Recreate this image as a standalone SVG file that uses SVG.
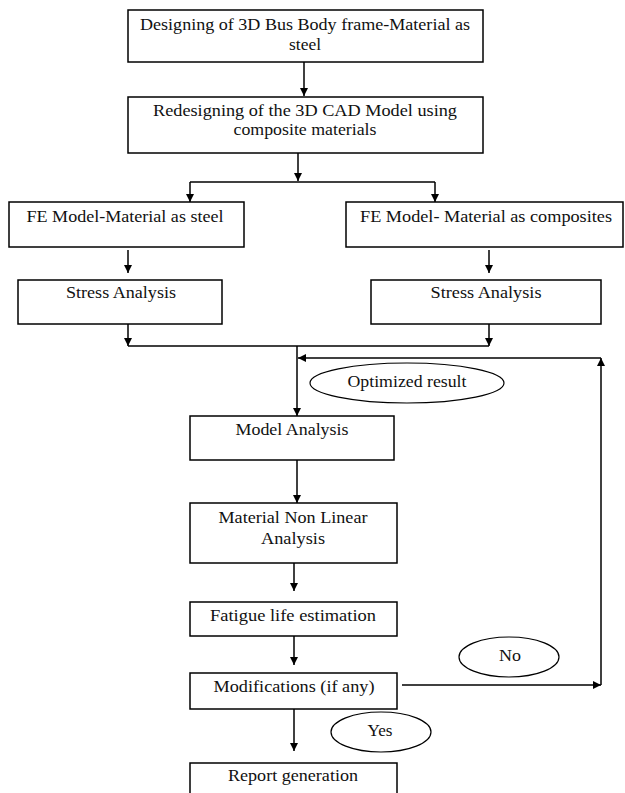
<svg xmlns="http://www.w3.org/2000/svg" width="625" height="793" viewBox="0 0 625 793">
<style>
.box{fill:#fff;stroke:#000;stroke-width:1.5}
.ell{fill:#fff;stroke:#000;stroke-width:1.2}
.t{font-family:"Liberation Serif","Times New Roman",serif;font-size:17px;fill:#111;text-anchor:middle}
.ln{fill:none;stroke:#000;stroke-width:1.5}
</style>
<defs>
<marker id="ah" viewBox="0 0 10 10" refX="10" refY="5" markerWidth="9" markerHeight="8" orient="auto" markerUnits="userSpaceOnUse">
<path d="M0,0 L10,5 L0,10 z" fill="#000"/>
</marker>
</defs>
<rect width="625" height="793" fill="#fff"/>
<g id="connectors">
<path class="ln" d="M304,62 V96" marker-end="url(#ah)"/>
<path class="ln" d="M298,153 V181" marker-end="url(#ah)"/>
<path class="ln" d="M190,182 H435"/>
<path class="ln" d="M190,182 V202" marker-end="url(#ah)"/>
<path class="ln" d="M435,182 V202" marker-end="url(#ah)"/>
<path class="ln" d="M128,250 V273" marker-end="url(#ah)"/>
<path class="ln" d="M489,250 V273" marker-end="url(#ah)"/>
<path class="ln" d="M128,324 V346" marker-end="url(#ah)"/>
<path class="ln" d="M489,324 V346" marker-end="url(#ah)"/>
<path class="ln" d="M128,346 H489"/>
<path class="ln" d="M297,346 V416" marker-end="url(#ah)"/>
<path class="ln" d="M601,358 H298" marker-end="url(#ah)"/>
<path class="ln" d="M297,460 V503" marker-end="url(#ah)"/>
<path class="ln" d="M294,563 V591" marker-end="url(#ah)"/>
<path class="ln" d="M294,636 V665" marker-end="url(#ah)"/>
<path class="ln" d="M402,685 H601" marker-end="url(#ah)"/>
<path class="ln" d="M601,685 V358" marker-end="url(#ah)"/>
<path class="ln" d="M294,709 V751" marker-end="url(#ah)"/>
</g>
<g id="n1"><rect class="box" x="128" y="10" width="355" height="52"/>
<text class="t" x="305" y="30" textLength="330" lengthAdjust="spacingAndGlyphs">Designing of 3D Bus Body frame-Material as</text>
<text class="t" x="305" y="50" textLength="32" lengthAdjust="spacingAndGlyphs">steel</text></g>
<g id="n2"><rect class="box" x="128" y="97" width="355" height="56"/>
<text class="t" x="305" y="116" textLength="304" lengthAdjust="spacingAndGlyphs">Redesigning of the 3D CAD Model using</text>
<text class="t" x="305" y="135" textLength="143" lengthAdjust="spacingAndGlyphs">composite materials</text></g>
<g id="n3"><rect class="box" x="9" y="202" width="235" height="45"/>
<text class="t" x="125" y="222" textLength="197" lengthAdjust="spacingAndGlyphs">FE Model-Material as steel</text></g>
<g id="n4"><rect class="box" x="346" y="202" width="277" height="45"/>
<text class="t" x="486" y="222" textLength="252" lengthAdjust="spacingAndGlyphs">FE Model- Material as composites</text></g>
<g id="n5"><rect class="box" x="18" y="280" width="204" height="44"/>
<text class="t" x="121" y="298" textLength="110" lengthAdjust="spacingAndGlyphs">Stress Analysis</text></g>
<g id="n6"><rect class="box" x="371" y="280" width="230" height="44"/>
<text class="t" x="486" y="298" textLength="111" lengthAdjust="spacingAndGlyphs">Stress Analysis</text></g>
<g id="n7"><ellipse class="ell" cx="407" cy="383" rx="97" ry="20"/>
<text class="t" x="407" y="387" textLength="119" lengthAdjust="spacingAndGlyphs">Optimized result</text></g>
<g id="n8"><rect class="box" x="190" y="416" width="204" height="44"/>
<text class="t" x="292" y="435" textLength="113" lengthAdjust="spacingAndGlyphs">Model Analysis</text></g>
<g id="n9"><rect class="box" x="190" y="503" width="207" height="60"/>
<text class="t" x="293" y="523" textLength="149" lengthAdjust="spacingAndGlyphs">Material Non Linear</text>
<text class="t" x="293" y="544" textLength="64" lengthAdjust="spacingAndGlyphs">Analysis</text></g>
<g id="n10"><rect class="box" x="190" y="602" width="207" height="34"/>
<text class="t" x="293" y="621" textLength="166" lengthAdjust="spacingAndGlyphs">Fatigue life estimation</text></g>
<g id="n11"><rect class="box" x="190" y="673" width="207" height="36"/>
<text class="t" x="294" y="692" textLength="161" lengthAdjust="spacingAndGlyphs">Modifications (if any)</text></g>
<g id="n12"><ellipse class="ell" cx="509" cy="657" rx="50" ry="20"/>
<text class="t" x="510" y="661" textLength="22" lengthAdjust="spacingAndGlyphs">No</text></g>
<g id="n13"><ellipse class="ell" cx="381" cy="732" rx="50" ry="20"/>
<text class="t" x="380" y="736" textLength="25" lengthAdjust="spacingAndGlyphs">Yes</text></g>
<g id="n14"><rect class="box" x="190" y="763" width="207" height="40"/>
<text class="t" x="293" y="781" textLength="130" lengthAdjust="spacingAndGlyphs">Report generation</text></g>
</svg>
